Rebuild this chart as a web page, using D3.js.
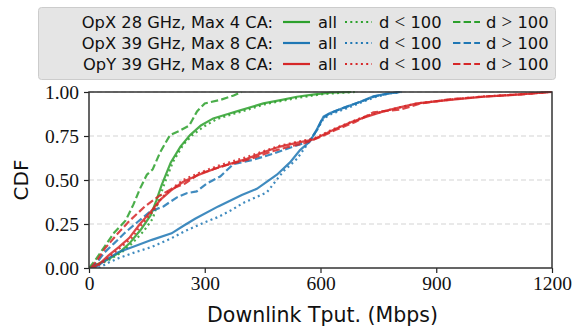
<!DOCTYPE html>
<html>
<head>
<meta charset="utf-8">
<script src="https://cdn.jsdelivr.net/npm/d3@7"></script>
<style>
  html, body { margin: 0; padding: 0; background: #fff; }
  svg { display: block; }
</style>
</head>
<body>
<div id="chart"></div>
<script>
// CDF points: [throughput Mbps, cdf]
const opx28All = [[0,0],[20,0.02],[50,0.05],[80,0.09],[105,0.14],[135,0.22],[160,0.30],[174,0.38],[188,0.47],[212,0.60],[237,0.69],[262,0.755],[290,0.81],[322,0.85],[360,0.875],[383,0.89],[452,0.935],[500,0.955],[539,0.973],[580,0.985],[625,0.996],[680,1.0]];
const opx28Near = [[0,0],[25,0.02],[55,0.05],[85,0.09],[112,0.14],[142,0.21],[165,0.28],[180,0.38],[194,0.47],[217,0.60],[244,0.70],[268,0.755],[295,0.80],[330,0.845],[365,0.87],[405,0.895],[455,0.93],[505,0.952],[555,0.972],[605,0.988],[655,0.996],[690,1.0]];
const opx28Far = [[0,0],[15,0.04],[40,0.12],[65,0.2],[95,0.27],[115,0.36],[132,0.45],[150,0.53],[165,0.56],[185,0.66],[210,0.755],[235,0.78],[260,0.81],[280,0.89],[300,0.935],[340,0.955],[375,0.98],[395,1.0]];

const opx39All = [[15,0],[40,0.04],[76,0.09],[120,0.125],[163,0.16],[214,0.197],[245,0.24],[275,0.28],[335,0.35],[396,0.415],[435,0.45],[487,0.53],[521,0.60],[547,0.67],[573,0.72],[591,0.79],[608,0.86],[625,0.88],[660,0.91],[703,0.945],[737,0.975],[770,0.99],[807,1.0]];
const opx39Near = [[25,0],[50,0.03],[76,0.055],[120,0.09],[163,0.12],[210,0.165],[249,0.21],[290,0.25],[335,0.29],[370,0.33],[400,0.37],[461,0.43],[504,0.55],[539,0.62],[565,0.70],[590,0.78],[608,0.85],[628,0.875],[665,0.905],[705,0.94],[740,0.97],[775,0.99],[810,1.0]];
const opx39Far = [[5,0],[20,0.03],[41,0.09],[65,0.14],[93,0.2],[125,0.26],[158,0.32],[193,0.35],[227,0.40],[253,0.425],[279,0.435],[305,0.48],[340,0.52],[374,0.59],[426,0.615],[478,0.65],[530,0.69],[570,0.72],[590,0.78],[605,0.85],[625,0.88],[660,0.91],[705,0.945],[740,0.975],[775,0.99],[805,1.0]];

const opy39All = [[10,0],[30,0.03],[50,0.07],[78,0.12],[104,0.17],[132,0.25],[160,0.32],[186,0.39],[212,0.44],[244,0.49],[285,0.53],[340,0.575],[409,0.62],[461,0.665],[495,0.69],[547,0.715],[582,0.73],[634,0.785],[680,0.83],[720,0.86],[763,0.89],[800,0.91],[850,0.935],[936,0.955],[1023,0.973],[1109,0.985],[1196,1.0]];
const opy39Near = [[12,0],[35,0.03],[56,0.07],[84,0.12],[110,0.17],[138,0.25],[165,0.32],[189,0.40],[214,0.45],[244,0.50],[285,0.54],[340,0.585],[409,0.63],[461,0.67],[495,0.695],[547,0.72],[582,0.735],[634,0.79],[680,0.83],[720,0.865],[763,0.89],[800,0.91],[850,0.935],[936,0.957],[1023,0.975],[1109,0.986],[1198,1.0]];
const opy39Far = [[5,0],[20,0.04],[41,0.11],[72,0.19],[106,0.27],[145,0.35],[182,0.41],[215,0.45],[249,0.48],[285,0.535],[357,0.585],[420,0.62],[470,0.66],[520,0.69],[560,0.71],[600,0.745],[640,0.785],[690,0.83],[737,0.885],[807,0.9],[860,0.935],[940,0.96],[1030,0.975],[1110,0.985],[1200,1.0]];

const groups = ['OpX 28 GHz, Max 4 CA:', 'OpX 39 GHz, Max 8 CA:', 'OpY 39 GHz, Max 8 CA:'];
const groupColors = ['#2ca02c', '#1f77b4', '#d62728'];
const variants = ['all', 'near', 'far'];
const seriesData = [
  [opx28All, opx28Near, opx28Far],
  [opx39All, opx39Near, opx39Far],
  [opy39All, opy39Near, opy39Far],
];

const xTicks = [0, 300, 600, 900, 1200];
const yTicks = [0, 0.25, 0.5, 0.75, 1.0];

const width = 573, height = 331;
const margin = { top: 92, right: 21, bottom: 63, left: 89 };
const innerW = width - margin.left - margin.right;
const innerH = height - margin.top - margin.bottom;

const dashFor = { all: null, near: '2,3.3', far: '7.4,3.2' };
const serif = '"Liberation Serif", "Times New Roman", serif';
const sans = '"DejaVu Sans", sans-serif';

const svg = d3.select('#chart').append('svg')
  .attr('width', width).attr('height', height);

const x = d3.scaleLinear().domain([0, 1200]).range([0, innerW]);
const y = d3.scaleLinear().domain([0, 1]).range([innerH, 0]);

const g = svg.append('g').attr('transform', `translate(${margin.left},${margin.top})`);

/* Grid */
g.append('g')
  .selectAll('line')
  .data(yTicks.filter((t) => t > 0))
  .join('line')
  .attr('x1', 0).attr('x2', innerW)
  .attr('y1', (d) => y(d)).attr('y2', (d) => y(d))
  .attr('stroke', '#d3d3d3')
  .attr('stroke-width', 1)
  .attr('stroke-dasharray', '5,3');

/* Lines */
const line = d3.line().x((d) => x(d[0])).y((d) => y(d[1]));
svg.append('clipPath').attr('id', 'plotclip')
  .append('rect').attr('x', 0).attr('y', -2).attr('width', innerW).attr('height', innerH + 2);

seriesData.forEach((set, gi) => {
  set.forEach((pts, vi) => {
    g.append('path')
      .datum(pts)
      .attr('fill', 'none')
      .attr('stroke', groupColors[gi])
      .attr('stroke-opacity', 0.85)
      .attr('stroke-width', 2.2)
      .attr('stroke-dasharray', dashFor[variants[vi]])
      .attr('clip-path', 'url(#plotclip)')
      .attr('d', line);
  });
});

/* Axes */
const xAxis = g.append('g')
  .attr('transform', `translate(0,${innerH})`)
  .call(d3.axisBottom(x).tickValues(xTicks).tickSize(5).tickPadding(3).tickFormat(d3.format('d')));
const yAxis = g.append('g')
  .call(d3.axisLeft(y).tickValues(yTicks).tickSize(5).tickPadding(5).tickFormat(d3.format('.2f')));

[xAxis, yAxis].forEach((ax) => {
  ax.select('.domain').remove();
  ax.selectAll('line').attr('stroke', '#222').attr('stroke-width', 1.2);
  ax.selectAll('text').attr('fill', '#111').attr('font-family', serif).attr('font-size', 19.5);
});

/* Frame */
g.append('rect')
  .attr('width', innerW).attr('height', innerH)
  .attr('fill', 'none').attr('stroke', '#333').attr('stroke-width', 1.5);

/* Axis titles */
svg.append('text')
  .attr('transform', `translate(${margin.left - 61},${margin.top + innerH / 2}) rotate(-90)`)
  .attr('text-anchor', 'middle')
  .attr('font-family', sans).attr('font-size', 20).attr('fill', '#111')
  .text('CDF');

svg.append('text')
  .attr('x', margin.left + innerW / 2 + 2).attr('y', height - 9)
  .attr('text-anchor', 'middle')
  .attr('font-family', sans).attr('font-size', 20.5).attr('fill', '#111')
  .text('Downlink Tput. (Mbps)');

/* Legend */
const legend = svg.append('g');
legend.append('rect')
  .attr('x', 38.5).attr('y', 7.5).attr('width', 517).attr('height', 72).attr('rx', 3)
  .attr('fill', '#e5e5e5').attr('stroke', '#cccccc').attr('stroke-width', 1);

const rowY = [22, 43, 64];
const sampleX = [283, 345, 453];
const labelX = [318, 379, 486];
const varLabels = [['all'], ['d ', '<', ' 100'], ['d ', '>', ' 100']];

groups.forEach((name, gi) => {
  const row = legend.append('g').attr('transform', `translate(0,${rowY[gi]})`);
  row.append('text')
    .attr('x', 273).attr('y', 6).attr('text-anchor', 'end')
    .attr('font-family', sans).attr('font-size', 16.3).attr('fill', '#111')
    .text(name);
  variants.forEach((v, vi) => {
    row.append('line')
      .attr('x1', sampleX[vi]).attr('x2', sampleX[vi] + 27)
      .attr('stroke', groupColors[gi]).attr('stroke-width', 2.2)
      .attr('stroke-dasharray', dashFor[v]);
    const t = row.append('text')
      .attr('x', labelX[vi]).attr('y', 6)
      .attr('font-family', sans).attr('font-size', 16.3).attr('fill', '#111');
    varLabels[vi].forEach((part) => {
      const span = t.append('tspan').text(part);
      if (part === '<' || part === '>') span.attr('font-family', serif).attr('font-size', 19);
    });
  });
});
</script>
</body>
</html>
